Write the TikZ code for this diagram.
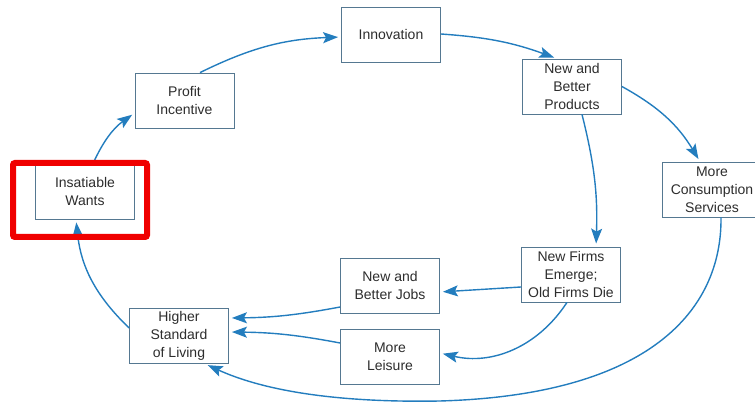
\documentclass[tikz,border=0pt]{standalone}
\usepackage{fontspec}
\setsansfont{Liberation Sans}
\usetikzlibrary{arrows.meta}
\definecolor{flowblue}{RGB}{35,125,190}
\definecolor{boxedge}{RGB}{85,120,145}
\definecolor{boxtext}{RGB}{45,45,45}
\definecolor{markred}{RGB}{240,0,0}

\begin{document}
\begin{tikzpicture}[x=1pt, y=1pt, ->, >={Stealth[length=15pt,width=11pt,inset=3pt]}, shorten >= 3pt, draw=flowblue, line width=1.4pt, font=\sffamily\fontsize{14}{18}\selectfont]
    \tikzstyle{block}=[draw=boxedge, line width=0.8pt, rectangle, fill=white, text=boxtext, minimum width=99pt, minimum height=55pt, inner sep=0pt, align=center]
    \tikzstyle{highlight}=[draw=markred, line width=6pt, rounded corners=2pt, rectangle, minimum width=134pt, minimum height=74pt, inner sep=0pt]

    \useasboundingbox (0,0) rectangle (755,403);

    \node[block] (wants) at (85,211.5) {Insatiable\\Wants};
    \node[block] (profit) at (184.5,302.5) {Profit\\Incentive};
    \node[block] (innov) at (391,368) {Innovation};
    \node[block] (products) at (572,316.5) {New and\\Better\\Products};
    \node[block] (consumption) at (712,213.5) {More\\Consumption\\Services};
    \node[block] (firms) at (571,128.5) {New Firms\\Emerge;\\Old Firms Die};
    \node[block] (jobs) at (390,117.5) {New and\\Better Jobs};
    \node[block] (leisure) at (390,46.5) {More\\Leisure};
    \node[block] (living) at (179,67) {Higher\\Standard\\of Living};

    % outer loop
    \draw ([xshift=8pt]wants.north) to[bend left=15] ([yshift=-12.5pt]profit.west);
    \draw ([xshift=15.5pt]profit.north) to[bend left=12] ([yshift=-2pt]innov.west);
    \draw ([yshift=1pt]innov.east) to[bend left=8] ([xshift=-15pt]products.north);
    \draw (products.east) to[bend left=15] ([xshift=-12pt]consumption.north);
    \draw ([xshift=10pt]products.south) to[bend left=8] ([xshift=25pt]firms.north);

    % firms to jobs and leisure
    \draw ([yshift=-12.5pt]firms.west) -- ([yshift=-6.5pt]jobs.east);
    \draw ([xshift=-4pt]firms.south) to[bend left=35] ([yshift=3.5pt]leisure.east);
    \draw ([yshift=-21.5pt]jobs.west) to[bend left=5] ([yshift=18pt]living.east);
    \draw ([yshift=13.5pt]leisure.west) to[bend right=5] ([yshift=4pt]living.east);

    % back round the bottom
    \draw ([xshift=9pt]consumption.south) .. controls (722,93) and (650,8) .. (440,2)
        .. controls (330,0) and (260,14) .. ([xshift=26pt]living.south);
    \draw ([yshift=8pt]living.west) to[bend left=20] ([xshift=-9pt]wants.south);

    \node[highlight] (mark) at (80,203) {};
\end{tikzpicture}
\end{document}
